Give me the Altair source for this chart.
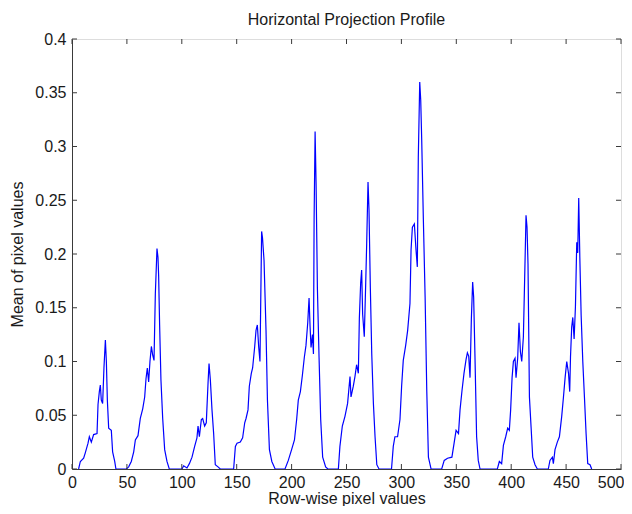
import altair as alt
import pandas as pd

# ---- data ----
p1x = [6, 7.6, 10.6, 12.1, 14.6, 15.8, 17.6, 19.7, 22.8, 23.7, 24.9, 25.8, 26.7, 27.9, 29.1, 30.4, 31.3, 32.2, 33.4, 35.8, 37, 38.9, 40]
p1y = [0, 0.007, 0.010, 0.015, 0.024, 0.030, 0.025, 0.032, 0.033, 0.060, 0.072, 0.078, 0.064, 0.061, 0.094, 0.120, 0.100, 0.064, 0.038, 0.036, 0.016, 0.007, 0]
p2x = [49.5, 51.6, 54, 56.2, 57.7, 60.1, 62.2, 64.4, 66.2, 67.4, 68.6, 69.8, 71, 72.3, 73.5, 74.7, 75.9, 77.4, 78.3, 78.9, 79.8, 81, 82.6, 84.4, 86.5, 88.6]
p2y = [0, 0.002, 0.007, 0.016, 0.027, 0.031, 0.047, 0.056, 0.067, 0.084, 0.094, 0.081, 0.100, 0.114, 0.106, 0.101, 0.163, 0.205, 0.197, 0.180, 0.134, 0.083, 0.047, 0.018, 0.007, 0]
p3x = [100.2, 101.7, 104.7, 106.9, 109.3, 111.7, 113.8, 114.8, 116, 117.8, 119, 120.8, 122.3, 123.9, 124.8, 126, 127.5, 129, 130.5, 133, 135]
p3y = [0, 0.003, 0.001, 0.005, 0.011, 0.021, 0.029, 0.040, 0.030, 0.046, 0.047, 0.040, 0.043, 0.080, 0.098, 0.083, 0.055, 0.033, 0.004, 0.002, 0]
p4x = [147.2, 148.8, 150.3, 153.3, 155.4, 157.3, 158.5, 160.3, 161.5, 163.3, 164.5, 166.4, 167.6, 168.8, 170, 171.2, 172.7, 173.5, 174.9, 176.7, 178, 179.8, 182, 185]
p4y = [0, 0.021, 0.024, 0.025, 0.029, 0.043, 0.047, 0.055, 0.077, 0.089, 0.094, 0.114, 0.129, 0.134, 0.114, 0.100, 0.221, 0.215, 0.194, 0.129, 0.064, 0.018, 0.007, 0]
p5x = [194, 197, 200, 202.6, 204.6, 206.1, 208, 209.8, 211.6, 213.1, 214.7, 215.9, 216.8, 217.7, 219, 219.9, 220.5, 221.4, 222.3, 223.5, 225, 226.5, 228.3, 231, 233]
p5y = [0, 0.008, 0.018, 0.027, 0.046, 0.064, 0.072, 0.087, 0.104, 0.115, 0.136, 0.159, 0.133, 0.113, 0.125, 0.107, 0.232, 0.314, 0.265, 0.168, 0.104, 0.046, 0.011, 0.002, 0]
p6x = [242.6, 244, 246.2, 248.6, 251, 253.2, 254.1, 256.2, 257.7, 259.2, 260.8, 261.7, 262.9, 263.8, 264.7, 266.2, 267.5, 268.4, 269.6, 270.5, 271.7, 273, 274.5, 276, 277.6, 279.6]
p6y = [0, 0.021, 0.040, 0.049, 0.061, 0.086, 0.067, 0.077, 0.086, 0.097, 0.089, 0.140, 0.173, 0.185, 0.144, 0.123, 0.173, 0.210, 0.267, 0.241, 0.169, 0.107, 0.061, 0.030, 0.004, 0]
p7x = [291, 292.6, 294.1, 296.5, 298.7, 300.2, 301.7, 303.9, 305.7, 307.8, 308.8, 310, 311.8, 313.3, 314.5, 315.4, 316.7, 317.6, 318.5, 320, 321.6, 323.1, 324.6, 327]
p7y = [0, 0.021, 0.030, 0.030, 0.046, 0.077, 0.101, 0.115, 0.129, 0.154, 0.204, 0.225, 0.228, 0.204, 0.188, 0.290, 0.360, 0.343, 0.306, 0.232, 0.160, 0.073, 0.011, 0]
p8x = [336.7, 339, 342, 346, 348, 349.8, 352, 353.4, 355.2, 357, 358.9, 360.1, 361.3, 362.5, 363.7, 364.9, 365.8, 367, 368.5, 370, 371.6]
p8y = [0, 0.008, 0.010, 0.011, 0.024, 0.036, 0.033, 0.055, 0.073, 0.089, 0.102, 0.108, 0.105, 0.085, 0.139, 0.174, 0.160, 0.105, 0.030, 0.008, 0]
p9x = [387.4, 389.2, 391.3, 392.9, 395, 396.8, 398.3, 399.5, 400.8, 402, 403.5, 404.4, 405.9, 407.1, 408.4, 409.6, 411.1, 412.3, 413.5, 414.4, 415.3, 416.6, 418.1, 419.6, 421.7, 423.8]
p9y = [0, 0.007, 0.005, 0.022, 0.030, 0.038, 0.036, 0.055, 0.085, 0.100, 0.103, 0.085, 0.103, 0.136, 0.109, 0.100, 0.123, 0.179, 0.236, 0.225, 0.191, 0.067, 0.039, 0.011, 0.004, 0]
p10x = [433.8, 435.3, 437.5, 438.4, 439.9, 442, 443.9, 446, 447.6, 449.1, 450.6, 452.2, 453.3, 454, 455.1, 456.1, 457.3, 458.5, 459.7, 460.6, 461.5, 462.5, 463.7, 465.2, 466.7, 468.2, 469.7, 471.8, 473.3]
p10y = [0, 0.008, 0.011, 0.005, 0.018, 0.025, 0.030, 0.049, 0.067, 0.085, 0.100, 0.089, 0.072, 0.104, 0.132, 0.141, 0.121, 0.151, 0.211, 0.201, 0.252, 0.197, 0.143, 0.100, 0.067, 0.033, 0.005, 0.004, 0]

x_ticks = [0, 50, 100, 150, 200, 250, 300, 350, 400, 450, 500]
y_ticks = [0, 0.05, 0.1, 0.15, 0.2, 0.25, 0.3, 0.35, 0.4]

title_text = "Horizontal Projection Profile"
x_title = "Row-wise pixel values"
y_title = "Mean of pixel values"

# ---- build table ----
xs = p1x + p2x + p3x + p4x + p5x + p6x + p7x + p8x + p9x + p10x
ys = p1y + p2y + p3y + p4y + p5y + p6y + p7y + p8y + p9y + p10y
df = pd.DataFrame({"row": xs, "mean": ys})
df["i"] = range(len(df))

W, H = 549, 430
FONT = "Liberation Sans"
AX = "#3a3a3a"
TX = "#1a1a1a"
TL = 5

xscale = alt.Scale(domain=[0, 500], nice=False, zero=False)
yscale = alt.Scale(domain=[0, 0.4], nice=False)

x_axis = alt.Axis(
    values=x_ticks, title=x_title, grid=False, ticks=False, tickSize=0,
    domain=True, domainColor=AX, zindex=1, labelPadding=5, titlePadding=0,
    labelFontSize=16, titleFontSize=16, titleFontWeight="normal",
    labelColor=TX, titleColor=TX, labelFont=FONT, titleFont=FONT, labelFlush=False,
    labelAlign={"condition": {"test": "datum.value >= 500", "value": "right"}, "value": "center"},
    labelOffset={"condition": {"test": "datum.value >= 500", "value": 3}, "value": 0})
y_axis = alt.Axis(
    values=y_ticks, format="~g", title=y_title, grid=False, ticks=False, tickSize=0,
    domain=True, domainColor=AX, zindex=1, labelPadding=6, titlePadding=9,
    labelFontSize=16, titleFontSize=16, titleFontWeight="normal",
    labelColor=TX, titleColor=TX, labelFont=FONT, titleFont=FONT, labelFlush=False)

line = alt.Chart(df).mark_line(color="#0000ff", strokeWidth=1.2, interpolate="linear").encode(
    x=alt.X("row:Q", scale=xscale, axis=x_axis),
    y=alt.Y("mean:Q", scale=yscale, axis=y_axis),
    order="i:Q",
)

xt = pd.DataFrame({"t": x_ticks})
yt = pd.DataFrame({"t": y_ticks})

bx = alt.Chart(xt).mark_rule(color=AX, strokeWidth=1).encode(
    x=alt.X("t:Q", scale=xscale, axis=x_axis), y=alt.value(H), y2=alt.value(H - TL))
tx = alt.Chart(xt).mark_rule(color=AX, strokeWidth=1).encode(
    x=alt.X("t:Q", scale=xscale, axis=x_axis), y=alt.value(0), y2=alt.value(TL))
ly = alt.Chart(yt).mark_rule(color=AX, strokeWidth=1).encode(
    y=alt.Y("t:Q", scale=yscale, axis=y_axis), x=alt.value(0), x2=alt.value(TL))
ry = alt.Chart(yt).mark_rule(color=AX, strokeWidth=1).encode(
    y=alt.Y("t:Q", scale=yscale, axis=y_axis), x=alt.value(W), x2=alt.value(W - TL))

chart = alt.layer(line, bx, tx, ly, ry).properties(
    width=W, height=H,
    title=alt.TitleParams(title_text, fontSize=16, fontWeight="normal", font=FONT,
                          color=TX, offset=3, anchor="middle"),
    autosize=alt.AutoSizeParams(type="none"),
    padding={"left": 64, "top": 31, "right": 3, "bottom": 37},
).configure_view(stroke=AX, strokeWidth=1).configure(background="white")

chart.save("out.html", embed_options={"renderer": "svg", "actions": False})
